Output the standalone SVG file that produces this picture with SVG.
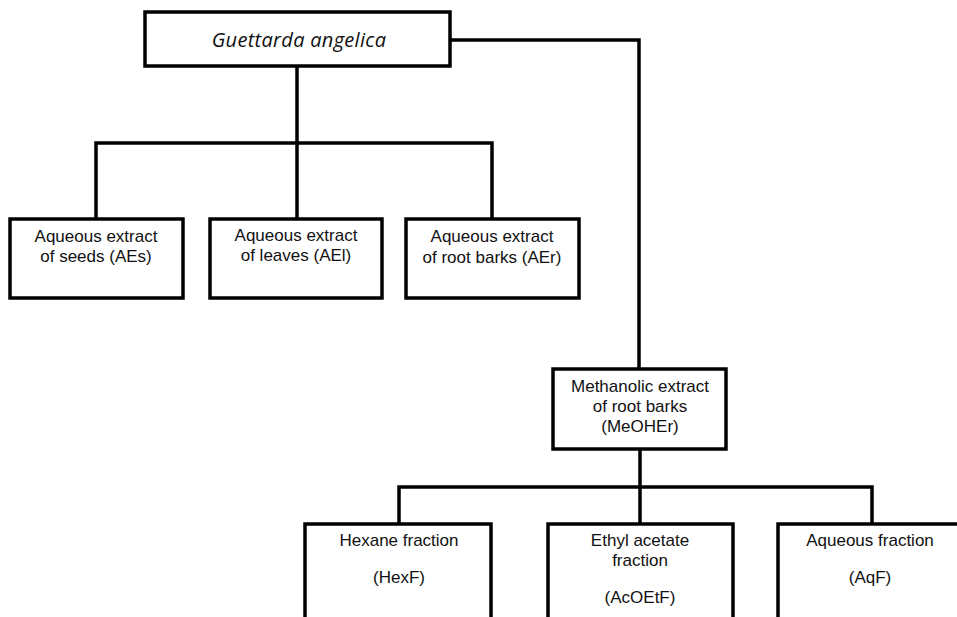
<svg xmlns="http://www.w3.org/2000/svg" width="957" height="617" viewBox="0 0 957 617">
<style>
.box{fill:#fff;stroke:#000;stroke-width:3.5}
.ln{fill:none;stroke:#000;stroke-width:3.5}
.t{font-family:"Liberation Sans",Arial,sans-serif;font-size:17px;fill:#111;text-anchor:middle}
.ti{font-family:"Open Sans","Liberation Sans",sans-serif;font-size:20px;font-style:italic;letter-spacing:0.3px;fill:#111;text-anchor:middle}
</style>
<rect width="957" height="617" fill="#fff"/>
<g id="connectors">
<polyline class="ln" points="297,66 297,219"/>
<polyline class="ln" points="96,219 96,143 492,143 492,219"/>
<polyline class="ln" points="450,40 639,40 639,369"/>
<polyline class="ln" points="640,449 640,524"/>
<polyline class="ln" points="399,524 399,487 872,487 872,524"/>
</g>
<g id="root">
<rect class="box" x="145" y="12" width="305" height="54"/>
<text class="ti" x="299" y="47">Guettarda angelica</text>
</g>
<g id="aes">
<rect class="box" x="10" y="219" width="173" height="79"/>
<text class="t" x="96" y="242">Aqueous extract</text>
<text class="t" x="96" y="262">of seeds (AEs)</text>
</g>
<g id="ael">
<rect class="box" x="210" y="219" width="172" height="79"/>
<text class="t" x="296" y="241">Aqueous extract</text>
<text class="t" x="296" y="261">of leaves (AEl)</text>
</g>
<g id="aer">
<rect class="box" x="406" y="219" width="173" height="79"/>
<text class="t" x="492" y="242">Aqueous extract</text>
<text class="t" x="492" y="263">of root barks (AEr)</text>
</g>
<g id="meoher">
<rect class="box" x="553" y="369" width="173" height="80"/>
<text class="t" x="640" y="392">Methanolic extract</text>
<text class="t" x="640" y="412">of root barks</text>
<text class="t" x="640" y="432">(MeOHEr)</text>
</g>
<g id="hexf">
<rect class="box" x="305" y="524" width="186" height="110"/>
<text class="t" x="399" y="546">Hexane fraction</text>
<text class="t" x="399" y="583">(HexF)</text>
</g>
<g id="acoetf">
<rect class="box" x="548" y="524" width="185" height="110"/>
<text class="t" x="640" y="546">Ethyl acetate</text>
<text class="t" x="640" y="566">fraction</text>
<text class="t" x="640" y="603">(AcOEtF)</text>
</g>
<g id="aqf">
<rect class="box" x="778" y="524" width="190" height="110"/>
<text class="t" x="870" y="546">Aqueous fraction</text>
<text class="t" x="870" y="583">(AqF)</text>
</g>
</svg>
